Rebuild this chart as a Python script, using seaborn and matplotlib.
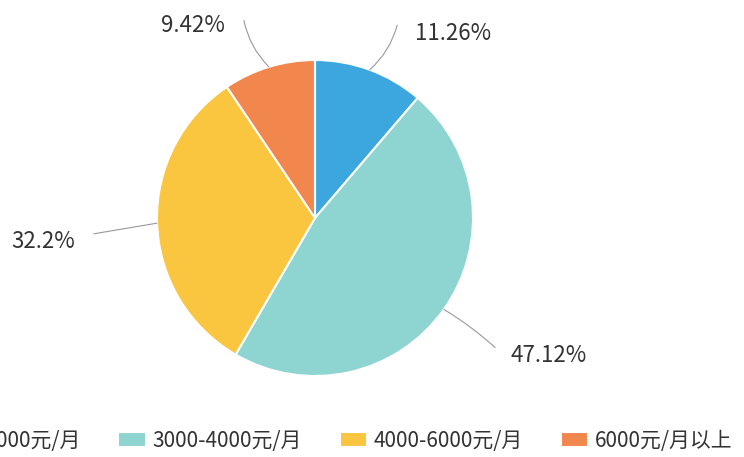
import numpy as np
import matplotlib
matplotlib.use("Agg")
import matplotlib.pyplot as plt
import seaborn as sns

# --- data ---
categories = ["2000-3000元/月", "3000-4000元/月", "4000-6000元/月", "6000元/月以上"]
shares = [11.26, 47.12, 32.2, 9.42]
pct_labels = ["11.26%", "47.12%", "32.2%", "9.42%"]

# --- style ---
colors = sns.color_palette(["#3BA7DE", "#8ED4D1", "#FAC53F", "#F2874D"])
# label text anchor and leader-line end (data units, pie radius = 1)
label_pos = [(0.63, 1.17), (1.24, -0.87), (-1.52, -0.15), (-0.57, 1.22)]
label_ha = ["left", "left", "right", "right"]
line_end = [(0.52, 1.22), (1.14, -0.82), (-1.4, -0.1), (-0.45, 1.25)]
line_rad = [-0.15, 0.05, 0.0, 0.15]

sns.set_theme(style="white")
plt.rcParams["font.family"] = ["Noto Sans CJK SC", "DejaVu Sans"]

fig = plt.figure(figsize=(7.44, 4.57), dpi=100)
ax = fig.add_axes([0, 0, 1, 1])

wedges, _ = ax.pie(shares, colors=colors, startangle=90, counterclock=False,
                   radius=1.0, center=(0, 0),
                   wedgeprops=dict(edgecolor="white", linewidth=1.5))

for w, txt, pos, ha, end, rad in zip(wedges, pct_labels, label_pos, label_ha,
                                     line_end, line_rad):
    ang = np.deg2rad((w.theta1 + w.theta2) / 2)
    xy = (np.cos(ang), np.sin(ang))
    ax.annotate("", xy=xy, xytext=end,
                arrowprops=dict(arrowstyle="-", color="#999999", lw=0.8,
                                shrinkA=0, shrinkB=0,
                                connectionstyle=f"arc3,rad={rad}"))
    ax.text(pos[0], pos[1], txt, ha=ha, va="center", fontsize=16,
            color="#333333")

# pixel-like framing: pie center at (315, 218), radius 158 px
ax.set_xlim(-315 / 158, (744 - 315) / 158)
ax.set_ylim(-(457 - 218) / 158, 218 / 158)
ax.set_aspect("equal")
ax.axis("off")

leg = ax.legend(wedges, categories, loc="center", bbox_to_anchor=(0, -1.41),
                bbox_transform=ax.transData, ncol=4, frameon=False,
                fontsize=15, handlelength=1.3, handleheight=0.75,
                handletextpad=0.35, columnspacing=1.8)
for t in leg.get_texts():
    t.set_color("#333333")

fig.savefig("out.png", dpi=100)
